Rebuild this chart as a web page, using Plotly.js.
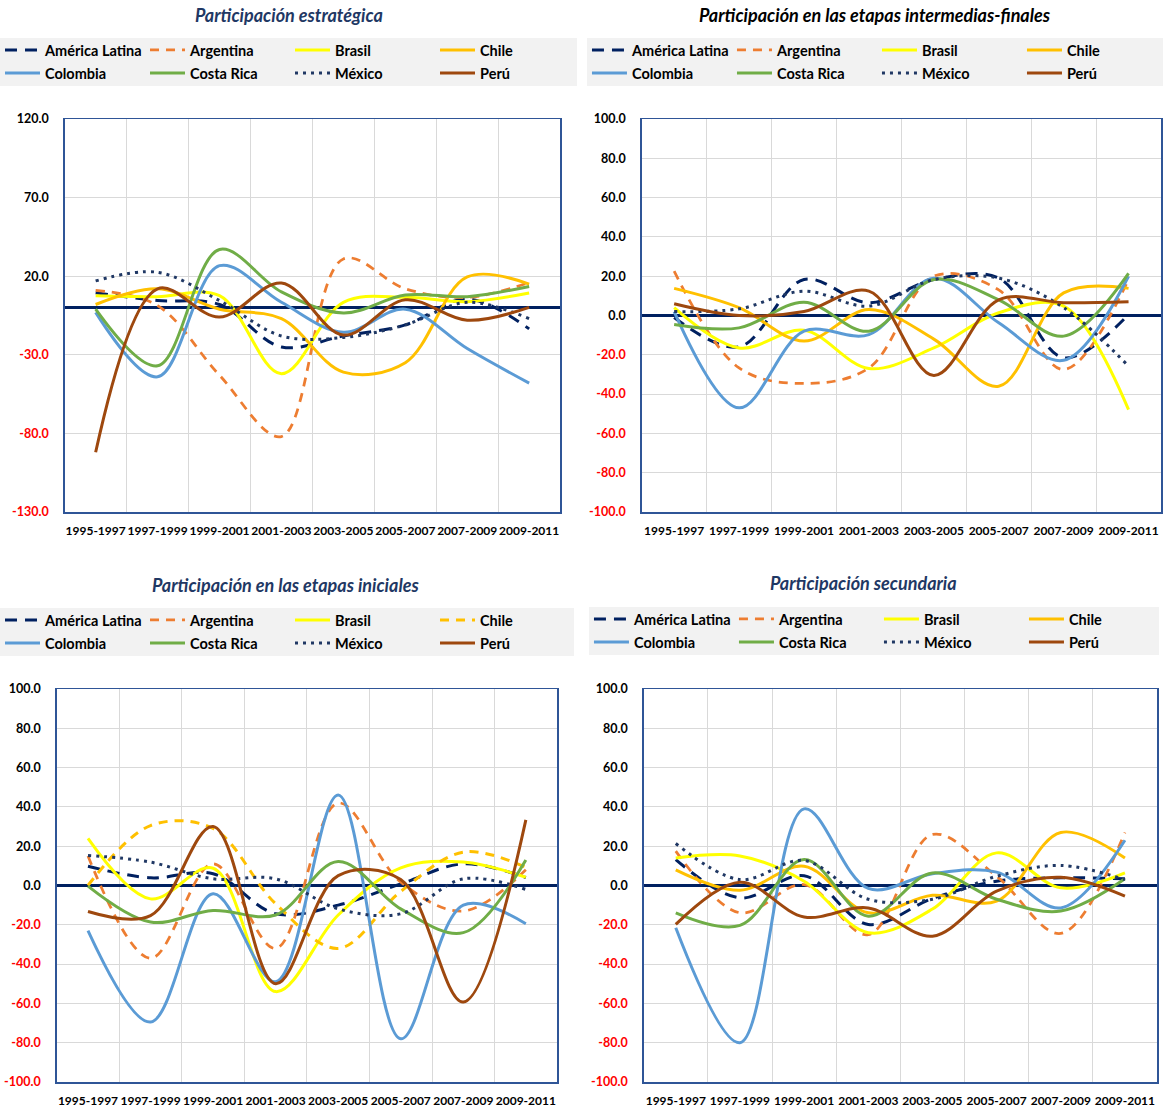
<!DOCTYPE html>
<html>
<head>
<meta charset="utf-8">
<script src="https://cdn.plot.ly/plotly-3.0.1.min.js"></script>
<style>
  html, body { margin: 0; padding: 0; background: #ffffff; overflow: hidden; }
  #chart { width: 1169px; height: 1111px; }
</style>
</head>
<body>
<div id="chart"></div>
<script>
// ---------- DATA ----------
const periods = ['1995-1997', '1997-1999', '1999-2001', '2001-2003', '2003-2005', '2005-2007', '2007-2009', '2009-2011'];
const seriesNames = ['América Latina', 'Argentina', 'Brasil', 'Chile', 'Colombia', 'Costa Rica', 'México', 'Perú'];
const panelTitles = ['Participación estratégica', 'Participación en las etapas intermedias-finales',
                     'Participación en las etapas iniciales', 'Participación secundaria'];

// Participación estratégica
const estAmericaLatina = [9.5, 4.5, 2.0, -25.0, -18.0, -11.0, 5.5, -13.5];
const estArgentina     = [11.0, 1.3, -43.0, -82.0, 31.0, 12.0, 6.5, 16.0];
const estBrasil        = [7.6, 7.0, 7.6, -42.0, 3.4, 6.6, 3.8, 9.3];
const estChile         = [2.0, 12.0, -1.0, -7.0, -41.0, -35.0, 19.5, 15.0];
const estColombia      = [-3.0, -44.0, 26.7, 3.4, -15.7, -1.0, -26.0, -48.0];
const estCostaRica     = [-1.0, -37.0, 37.0, 10.0, -3.4, 8.0, 7.0, 13.5];
const estMexico        = [17.0, 22.5, 4.5, -18.0, -19.0, -11.0, 3.4, -7.0];
const estPeru          = [-92.0, 12.0, -6.0, 15.7, -17.4, 5.0, -8.0, 0.2];

// Participación en las etapas intermedias-finales
const intAmericaLatina = [-1.0, -16.0, 18.3, 6.5, 18.3, 19.0, -21.5, 0.5];
const intArgentina     = [22.6, -26.7, -34.6, -26.7, 20.0, 13.0, -27.5, 18.3];
const intBrasil        = [4.0, -16.5, -7.5, -27.0, -16.5, 1.4, 4.8, -47.9];
const intChile         = [13.8, 4.0, -13.0, 3.0, -12.0, -36.0, 11.5, 13.8];
const intColombia      = [2.0, -47.0, -8.0, -9.7, 19.0, -3.7, -22.8, 20.0];
const intCostaRica     = [-4.6, -6.3, 6.8, -8.0, 18.3, 8.0, -10.5, 21.4];
const intMexico        = [2.0, 3.4, 12.4, 4.8, 18.3, 19.0, 4.0, -25.8];
const intPeru          = [6.0, 0.0, 2.0, 12.4, -30.5, 8.0, 6.5, 7.0];

// Participación en las etapas iniciales
const iniAmericaLatina = [9.8, 3.9, 6.0, -14.4, -10.0, 0.8, 11.0, 4.0];
const iniArgentina     = [15.0, -37.0, 11.0, -32.0, 42.0, 1.7, -13.0, 8.0];
const iniBrasil        = [24.0, -6.8, 8.8, -54.0, -15.0, 9.0, 11.9, 4.2];
const iniChile         = [0.0, 30.5, 29.0, -9.3, -32.0, -3.0, 17.0, 9.3];
const iniColombia      = [-23.0, -69.5, -4.2, -49.0, 46.0, -78.0, -10.0, -19.5];
const iniCostaRica     = [-0.3, -18.6, -12.7, -15.0, 12.2, -11.9, -24.0, 13.0];
const iniMexico        = [15.3, 11.9, 3.4, 3.4, -11.9, -14.4, 3.4, -2.0];
const iniPeru          = [-13.2, -15.3, 30.0, -50.0, 5.0, 3.0, -59.3, 33.4];

// Participación secundaria
const secAmericaLatina = [13.2, -6.3, 5.0, -19.8, -6.6, 2.2, 3.9, 3.4];
const secArgentina     = [17.5, -13.9, 0.5, -25.0, 26.0, 4.7, -24.4, 27.0];
const secBrasil        = [14.0, 15.0, 2.2, -24.0, -12.0, 16.6, -1.2, 6.4];
const secChile         = [8.0, -2.4, 9.8, -13.9, -5.0, -8.0, 27.0, 14.0];
const secColombia      = [-21.5, -80.0, 39.0, -1.5, 6.0, 6.8, -11.4, 23.0];
const secCostaRica     = [-13.9, -20.3, 13.2, -15.6, 6.4, -7.0, -13.0, 3.4];
const secMexico        = [21.4, 3.0, 12.7, -7.0, -7.0, 4.7, 10.2, 3.0];
const secPeru          = [-19.8, 1.7, -16.0, -11.4, -25.8, -2.9, 4.2, -5.4];

// Y axis tick values
const yTicksEstrategica = [-130, -80, -30, 20, 70, 120];
const yTicksOther = [-100, -80, -60, -40, -20, 0, 20, 40, 60, 80, 100];

// ---------- LAYOUT HELPERS ----------
const W = 1169, H = 1111;
const px = v => v / W;
const py = v => 1 - v / H;

const styles = [
  { color: '#002060', width: 3,    dash: '12px,8px' },
  { color: '#ED7D31', width: 2.75, dash: '9px,7px' },
  { color: '#FFFF00', width: 3,    dash: 'solid' },
  { color: '#FFC000', width: 3,    dash: 'solid' },
  { color: '#5B9BD5', width: 3,    dash: 'solid' },
  { color: '#70AD47', width: 3,    dash: 'solid' },
  { color: '#203864', width: 3,    dash: '3px,5px' },
  { color: '#9E480E', width: 3,    dash: 'solid' }
];

const panels = [
  { data: [estAmericaLatina, estArgentina, estBrasil, estChile, estColombia, estCostaRica, estMexico, estPeru],
    ticks: yTicksEstrategica, plot: [65, 563, 119, 512], legendBox: [0, 580, 38, 86],
    titleXY: [290, 15], titleColor: '#1F3864', chileDashed: false },
  { data: [intAmericaLatina, intArgentina, intBrasil, intChile, intColombia, intCostaRica, intMexico, intPeru],
    ticks: yTicksOther, plot: [645, 1167, 119, 512], legendBox: [590, 1169, 38, 86],
    titleXY: [880, 15], titleColor: '#000000', chileDashed: false },
  { data: [iniAmericaLatina, iniArgentina, iniBrasil, iniChile, iniColombia, iniCostaRica, iniMexico, iniPeru],
    ticks: yTicksOther, plot: [57, 560, 689, 1082], legendBox: [0, 577, 608, 656],
    titleXY: [287, 585], titleColor: '#1F3864', chileDashed: true },
  { data: [secAmericaLatina, secArgentina, secBrasil, secChile, secColombia, secCostaRica, secMexico, secPeru],
    ticks: yTicksOther, plot: [647, 1163, 689, 1082], legendBox: [592, 1165, 607, 655],
    titleXY: [868, 583], titleColor: '#1F3864', chileDashed: false }
];

const FONT = 'Lato, "Open Sans", sans-serif';
const traces = [];
const layout = {
  width: W, height: H,
  margin: { l: 0, r: 0, t: 0, b: 0 },
  paper_bgcolor: '#ffffff',
  plot_bgcolor: '#ffffff',
  font: { family: FONT, color: '#000' },
  shapes: [],
  annotations: [],
  hovermode: false
};

panels.forEach((p, i) => {
  const n = i + 1;
  const xa = n === 1 ? 'x' : 'x' + n;
  const ya = n === 1 ? 'y' : 'y' + n;
  const xKey = n === 1 ? 'xaxis' : 'xaxis' + n;
  const yKey = n === 1 ? 'yaxis' : 'yaxis' + n;
  const leg1 = i * 2 + 1, leg2 = i * 2 + 2;
  const legName = k => (k === 1 ? 'legend' : 'legend' + k);

  p.data.forEach((vals, s) => {
    const st = styles[s];
    let dash = st.dash;
    if (s === 3 && p.chileDashed) dash = '9px,7px';
    traces.push({
      type: 'scatter', mode: 'lines',
      x: periods, y: vals, name: seriesNames[s],
      xaxis: xa, yaxis: ya,
      legend: legName(s < 4 ? leg1 : leg2),
      line: { color: st.color, width: st.width, dash: dash, shape: 'spline', smoothing: 1 },
      hoverinfo: 'skip'
    });
  });

  const [l, r, t, b] = p.plot;
  layout[xKey] = {
    domain: [px(l), px(r)], anchor: ya, type: 'category', range: [-0.5, periods.length - 0.5],
    tickson: 'boundaries', ticks: '', showgrid: true, gridcolor: '#D9D9D9', gridwidth: 1,
    showline: true, mirror: true, linecolor: '#2F5597', linewidth: 1.5,
    tickfont: { family: FONT, size: 12, weight: 'bold', color: '#000' },
    ticklabelstandoff: 7, tickangle: 0, fixedrange: true
  };
  layout[yKey] = {
    domain: [py(b), py(t)], anchor: xa, range: [p.ticks[0], p.ticks[p.ticks.length - 1]],
    tickmode: 'array', tickvals: p.ticks,
    ticktext: p.ticks.map(v => v < 0 ? '<span style="color:#FF0000">' + v.toFixed(1) + '</span>' : v.toFixed(1)),
    ticks: '', showgrid: true, gridcolor: '#D9D9D9', gridwidth: 1,
    zeroline: true, zerolinecolor: '#002060', zerolinewidth: 3,
    showline: true, mirror: true, linecolor: '#2F5597', linewidth: 1.5,
    tickfont: { family: FONT, size: 12.5, weight: 'bold', color: '#000' },
    ticklabelstandoff: 12, fixedrange: true
  };

  // legend background box
  const [bl, br, bt, bb] = p.legendBox;
  layout.shapes.push({
    type: 'rect', xref: 'paper', yref: 'paper', layer: 'below',
    x0: px(bl), x1: px(br), y0: py(bb), y1: py(bt),
    fillcolor: '#F2F2F2', line: { width: 0 }
  });

  // two legend rows
  [leg1, leg2].forEach((k, row) => {
    layout[legName(k)] = {
      x: px(bl), xanchor: 'left',
      y: py(bt + 12 + row * 23), yanchor: 'middle',
      orientation: 'h', bgcolor: 'rgba(0,0,0,0)', borderwidth: 0,
      font: { family: FONT, size: 14.5, weight: 'bold', color: '#000' },
      entrywidth: 95, entrywidthmode: 'pixels', itemwidth: 35,
      traceorder: 'normal', itemclick: false, itemdoubleclick: false
    };
  });

  // panel title
  layout.annotations.push({
    xref: 'paper', yref: 'paper', x: px(p.titleXY[0]), y: py(p.titleXY[1]),
    xanchor: 'center', yanchor: 'middle', showarrow: false,
    text: panelTitles[i],
    font: { family: FONT, size: 18, weight: 'bold', style: 'italic', color: p.titleColor }
  });
});

Plotly.newPlot('chart', traces, layout, { displayModeBar: false, staticPlot: true });
</script>
</body>
</html>
